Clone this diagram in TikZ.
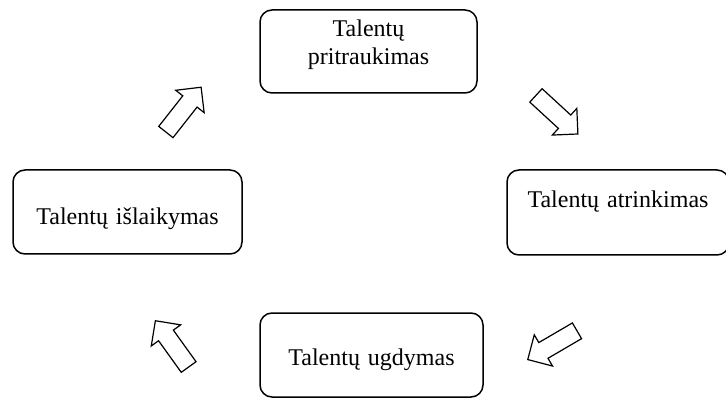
\documentclass[tikz,border=0pt]{standalone}
\usepackage{fontspec}
\setmainfont{Liberation Serif}
\usetikzlibrary{shapes.arrows}

\tikzset{
  stage/.style={draw, line width=1.5pt, rounded corners=12pt, inner sep=0pt,
    anchor=base, align=center, font=\fontsize{24}{28}\selectfont},
  blockarrow/.style={single arrow, draw, line width=1.2pt, inner sep=0pt,
    text height=8.5pt, text depth=8.5pt, minimum height=57pt,
    single arrow head extend=9pt, single arrow tip angle=90, anchor=tail}
}

\begin{document}
\begin{tikzpicture}[x=1pt, y=-1pt]
  \useasboundingbox (0,0) rectangle (726,398);
  % --- cycle stages ------------------------------------------------------
  \node[stage, text width=217pt, text height=27pt, text depth=56pt]
       (pritraukimas) at (368.5,37) {Talentų\\pritraukimas};
  \node[stage, text width=222pt, text height=38pt, text depth=47pt]
       (atrinkimas) at (618,208) {Talentų atrinkimas};
  \node[stage, text width=229pt, text height=55pt, text depth=29pt]
       (islaikymas) at (127.5,225) {Talentų išlaikymas};
  \node[stage, text width=223pt, text height=52pt, text depth=32pt]
       (ugdymas) at (371.5,365) {Talentų ugdymas};
  % --- block arrows between stages ---------------------------------------
  \node[blockarrow, rotate=51.8]  (toPritraukimas) at (165.5,132.5) {};
  \node[blockarrow, rotate=-42.6] (toAtrinkimas)   at (535.5,95) {};
  \node[blockarrow, rotate=210.3] (toUgdymas)      at (577.5,330.5) {};
  \node[blockarrow, rotate=125.7] (toIslaikymas)   at (189,367.5) {};
\end{tikzpicture}
\end{document}
